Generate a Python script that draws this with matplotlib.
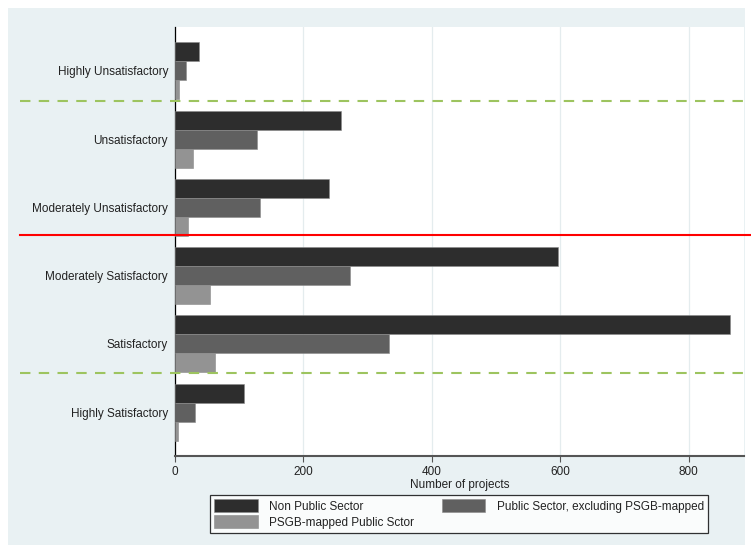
import matplotlib
matplotlib.use("Agg")
import matplotlib.pyplot as plt
from matplotlib.patches import Rectangle
from matplotlib.lines import Line2D
import numpy as np

plt.rcParams['font.family'] = ['Liberation Sans', 'DejaVu Sans']

# ratings, top to bottom
categories = ["Highly Unsatisfactory", "Unsatisfactory", "Moderately Unsatisfactory",
              "Moderately Satisfactory", "Satisfactory", "Highly Satisfactory"]
non_public = [37, 258, 240, 596, 864, 107]
public_excl = [17, 127, 133, 272, 334, 31]
psgb_public = [6, 28, 20, 54, 62, 4]
series_names = ["Non Public Sector", "Public Sector, excluding PSGB-mapped",
                "PSGB-mapped Public Sctor"]
xticks = [0, 200, 400, 600, 800]

colors = ["#2d2d2d", "#606060", "#939393"]
panel = "#e9f1f3"

fig = plt.figure(figsize=(7.51, 5.52), dpi=100, facecolor="white")
# light panel behind the whole graph
fig.patches.append(Rectangle((8 / 751, 7 / 552), 737 / 751, 537 / 552,
                             transform=fig.transFigure, facecolor=panel,
                             edgecolor="none", zorder=-10))

ax = fig.add_axes([175 / 751, 1 - 456 / 552, 569 / 751, 429 / 552])
ax.set_facecolor("white")

y = np.arange(len(categories))
h = 0.278
handles = []
for k, vals in enumerate([non_public, public_excl, psgb_public]):
    b = ax.barh(y + (k - 1) * h, vals, height=h, color=colors[k],
                edgecolor="#8a8a8a", linewidth=0.4, zorder=3)
    handles.append(b)

ax.set_ylim(5.64, -0.64)
ax.set_xlim(0, 886)
ax.set_yticks(y)
ax.set_yticklabels(categories, fontsize=8.5, color="#222222")
ax.tick_params(axis="y", length=0, pad=5)
ax.set_xticks(xticks)
ax.set_xticklabels([str(t) for t in xticks], fontsize=8.5, color="#222222")
ax.tick_params(axis="x", length=4, width=0.8, color="#555555", pad=3)
ax.set_xlabel("Number of projects", fontsize=8.5, color="#222222", labelpad=1)

ax.grid(axis="x", color="#e4ecee", linewidth=0.9, zorder=0)
for s in ["top", "right"]:
    ax.spines[s].set_visible(False)
ax.spines["left"].set_color("black")
ax.spines["left"].set_linewidth(0.9)
ax.spines["bottom"].set_color("#555555")
ax.spines["bottom"].set_linewidth(1.5)

# separators between rating bands, running past the axes
x0 = (20 - 175) / 569
x1 = (751 - 175) / 569
trans = ax.get_yaxis_transform()
for yy, col, ls in [(0.45, "#9dc45f", (0, (5, 4))), (2.41, "#ff0000", "-"),
                    (4.43, "#9dc45f", (0, (5, 4)))]:
    ax.add_line(Line2D([x0, x1], [yy, yy], transform=trans, color=col,
                       linestyle=ls, linewidth=1.5, clip_on=False, zorder=4))

leg = fig.legend([handles[0], handles[2], handles[1]],
                 [series_names[0], series_names[2], series_names[1]],
                 ncol=2, loc="center", bbox_to_anchor=(459 / 751, 1 - 514 / 552),
                 fontsize=8.5, frameon=True, fancybox=False, edgecolor="black",
                 handlelength=3.7, handleheight=1.2, handletextpad=1.0,
                 columnspacing=2.3, borderpad=0.35, labelspacing=0.25)
leg.get_frame().set_linewidth(0.9)
for t in leg.get_texts():
    t.set_color("#222222")

fig.savefig("out.png", dpi=100, facecolor="white")
